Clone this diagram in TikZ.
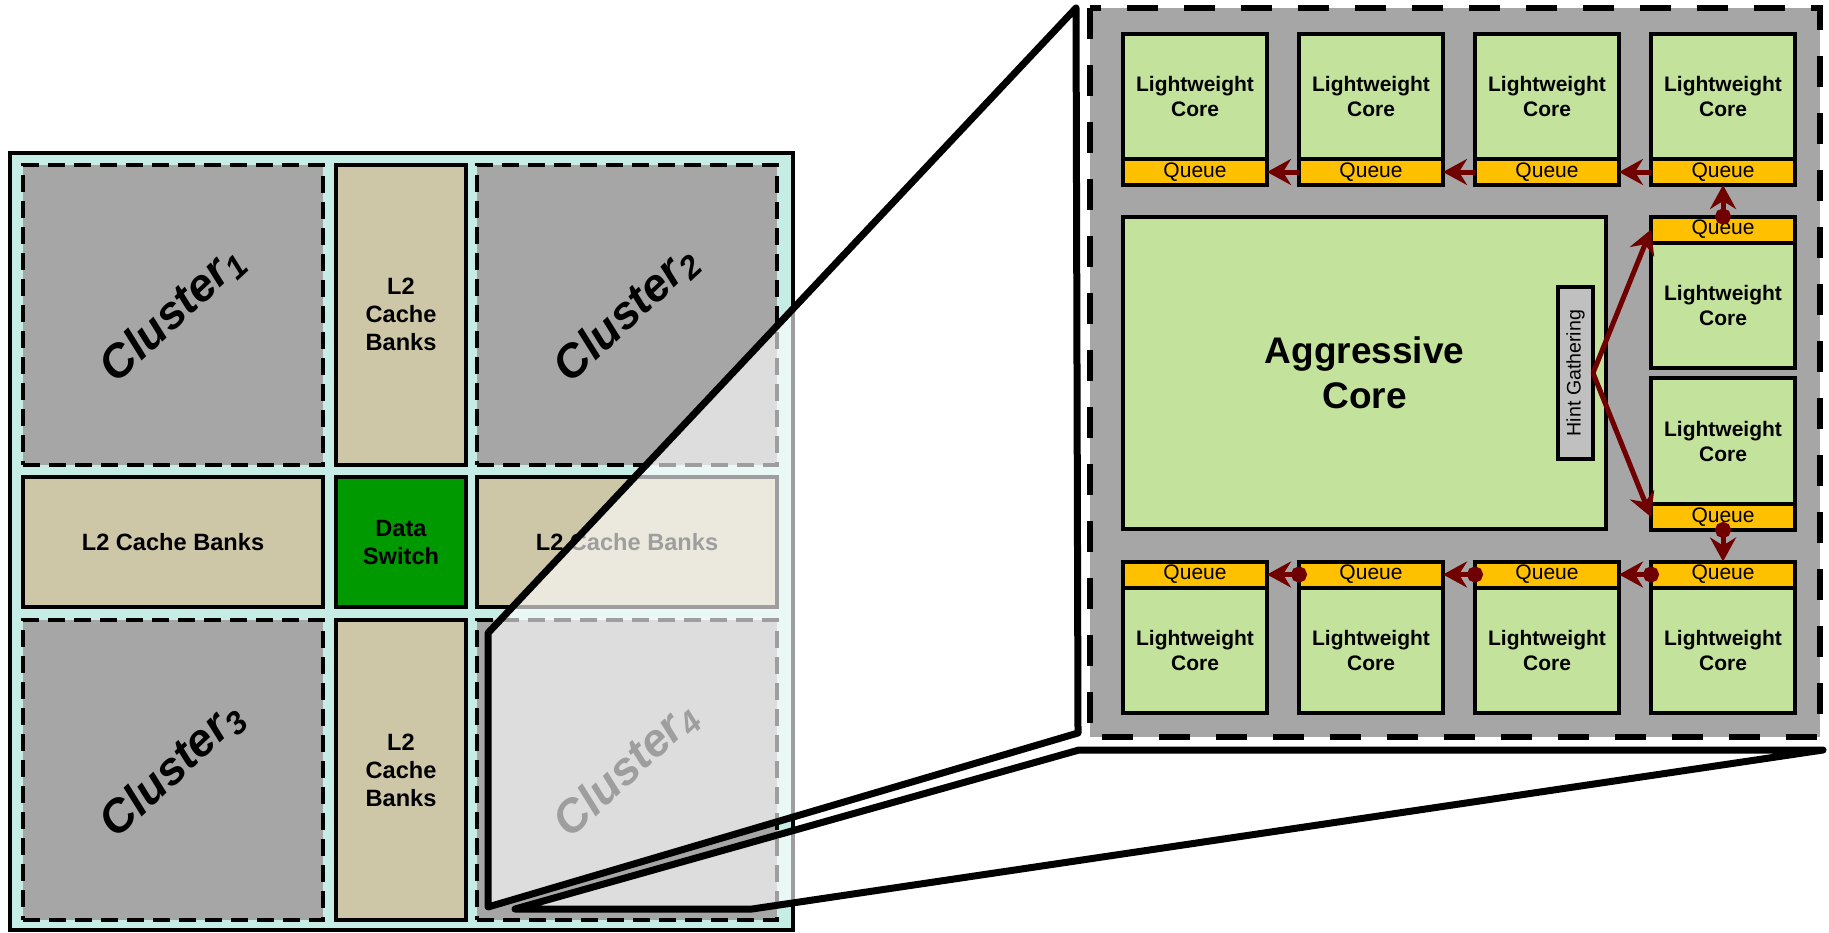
\documentclass[tikz,border=0pt]{standalone}
\usepackage{fontspec}
\setmainfont{Liberation Sans}
\usetikzlibrary{arrows.meta,positioning}

\definecolor{chipcyan}{RGB}{198,236,230}
\definecolor{clustergray}{RGB}{166,166,166}
\definecolor{cachetan}{RGB}{205,199,168}
\definecolor{switchgreen}{RGB}{0,153,0}
\definecolor{coregreen}{RGB}{195,226,155}
\definecolor{queueyellow}{RGB}{255,192,0}
\definecolor{hintgray}{RGB}{192,192,192}
\definecolor{linkred}{RGB}{112,0,0}

\tikzset{every picture/.style={line width=0.75pt}}

\begin{document}
\begin{tikzpicture}[x=0.5pt,y=0.5pt,yscale=-1,
  cluster/.style={draw, fill=clustergray, line width=2pt, dash pattern=on 8.5pt off 4.5pt, minimum width=150pt, minimum height=150pt, inner sep=0pt, outer sep=0pt},
  clusterlabel/.style={rotate=43, inner sep=0pt, font=\fontsize{23}{27}\selectfont\bfseries\itshape},
  cachebox/.style={draw, fill=cachetan, line width=2pt, inner sep=0pt, outer sep=0pt, align=center, font=\fontsize{11.8}{14}\selectfont\bfseries},
  lwcore/.style={draw, fill=coregreen, line width=2pt, minimum width=72pt, minimum height=62.5pt, inner sep=0pt, outer sep=0pt, align=center, font=\fontsize{10.5}{12.5}\selectfont\bfseries},
  queue/.style={draw, fill=queueyellow, line width=2pt, minimum width=72pt, minimum height=13pt, inner sep=0pt, outer sep=0pt, font=\fontsize{10.5}{12.5}\selectfont},
  link/.style={color=linkred, line width=2.5pt, arrows={-Stealth[length=12pt,width=13pt,inset=4pt]}},
  dotlink/.style={link, arrows={Circle[length=8pt]-Stealth[length=12pt,width=13pt,inset=4pt]}, shorten <=-4pt},
  peel/.style={fill=white, fill opacity=0.62},
  foldline/.style={line width=3.5pt, line join=round, line cap=round}
]
\useasboundingbox (0,0) rectangle (1829,932);

%Chip die
\draw [line width=1.8pt, fill=chipcyan] (10,153) rectangle (793,930);

%Clusters
\node [cluster] (cl1) at (173,314.5) {};
\node [cluster] (cl2) at (627,314.5) {};
\node [cluster] (cl3) at (173,770) {};
\node [cluster] (cl4) at (627,770) {};
\node [clusterlabel] (cl1txt) at (cl1) {Cluster\textsubscript{1}};
\node [clusterlabel] (cl2txt) at (cl2) {Cluster\textsubscript{2}};
\node [clusterlabel] (cl3txt) at (cl3) {Cluster\textsubscript{3}};
\node [clusterlabel] (cl4txt) at (cl4) {Cluster\textsubscript{4}};

%L2 banks and switch
\node [cachebox, minimum width=65pt, minimum height=150pt] (l2top) at (401,314.5) {L2\\Cache\\Banks};
\node [cachebox, minimum width=150pt, minimum height=65pt] (l2left) at (173,542) {L2 Cache Banks};
\node [cachebox, fill=switchgreen, minimum width=65pt, minimum height=65pt] (dswitch) at (401,542) {Data\\Switch};
\node [cachebox, minimum width=150pt, minimum height=65pt] (l2right) at (627,542) {L2 Cache Banks};
\node [cachebox, minimum width=65pt, minimum height=150pt] (l2bot) at (401,770) {L2\\Cache\\Banks};

%Peeled page
\fill [peel] (1076,8) -- (488,633) -- (488,907) -- (1078,733) -- cycle ;
\fill [peel] (515,909) -- (1079,750) -- (1823,750) -- (752,909) -- cycle ;
\draw [foldline] (1076,8) -- (488,633) -- (488,907) -- (1078,733) -- cycle ;
\draw [foldline] (515,909) -- (1079,750) -- (1823,750) -- (752,909) -- cycle ;

%Zoomed cluster
\draw [line width=3pt, dash pattern=on 15.5pt off 13pt, fill=clustergray] (1090,8) rectangle (1820,737);

\node [lwcore, minimum width=241.5pt, minimum height=156pt, font=\fontsize{18.5}{22.5}\selectfont\bfseries] (aggr) at (1364.5,373) {Aggressive\\Core};
\node [draw, fill=hintgray, line width=2pt, rotate=90, minimum width=86pt, minimum height=17.5pt, inner sep=0pt, outer sep=0pt, font=\fontsize{9.8}{11}\selectfont] (hint) at (1575.5,373) {Hint Gathering};

% Top row
\node [lwcore] (lwt1) at (1195,96.5) {Lightweight\\Core};
\node [lwcore] (lwt2) at (1371,96.5) {Lightweight\\Core};
\node [lwcore] (lwt3) at (1547,96.5) {Lightweight\\Core};
\node [lwcore] (lwt4) at (1723,96.5) {Lightweight\\Core};
\node [queue, below=0pt of lwt1] (qt1) {Queue};
\node [queue, below=0pt of lwt2] (qt2) {Queue};
\node [queue, below=0pt of lwt3] (qt3) {Queue};
\node [queue, below=0pt of lwt4] (qt4) {Queue};

% Right column
\node [queue] (qr1) at (1723,229.5) {Queue};
\node [lwcore, below=0pt of qr1] (lwr1) {Lightweight\\Core};
\node [lwcore, minimum height=63pt] (lwr2) at (1723,441) {Lightweight\\Core};
\node [queue, below=0pt of lwr2] (qr2) {Queue};

% Bottom row
\node [queue] (qb1) at (1195,574.5) {Queue};
\node [queue] (qb2) at (1371,574.5) {Queue};
\node [queue] (qb3) at (1547,574.5) {Queue};
\node [queue] (qb4) at (1723,574.5) {Queue};
\node [lwcore, below=0pt of qb1] (lwb1) {Lightweight\\Core};
\node [lwcore, below=0pt of qb2] (lwb2) {Lightweight\\Core};
\node [lwcore, below=0pt of qb3] (lwb3) {Lightweight\\Core};
\node [lwcore, below=0pt of qb4] (lwb4) {Lightweight\\Core};

%Hint links (hint is rotated: its south side faces right)
\draw [link] (hint.south) -- (qr1.west) ;
\draw [link] (hint.south) -- (qr2.west) ;
%Queue chain
\draw [dotlink] (qr1.north) -- (qt4.south) ;
\draw [link] (qt4.west) -- (qt3.east) ;
\draw [link] (qt3.west) -- (qt2.east) ;
\draw [link] (qt2.west) -- (qt1.east) ;
\draw [dotlink] (qr2.south) -- (qb4.north) ;
\draw [dotlink] (qb4.west) -- (qb3.east) ;
\draw [dotlink] (qb3.west) -- (qb2.east) ;
\draw [dotlink] (qb2.west) -- (qb1.east) ;

\end{tikzpicture}
\end{document}
